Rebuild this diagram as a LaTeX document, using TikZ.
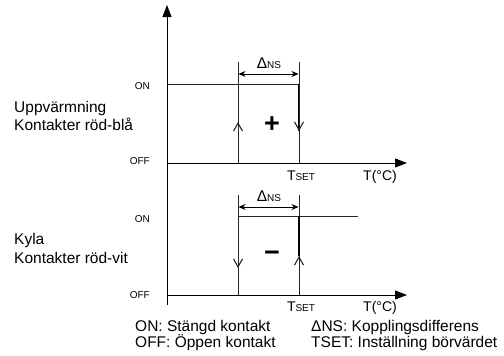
\documentclass[tikz,border=0pt]{standalone}
\usepackage{fontspec}
\setmainfont{Liberation Sans}
\usetikzlibrary{arrows.meta}
\begin{document}
\begin{tikzpicture}[x=1pt,y=-1pt,
  axis/.style={line width=1pt,-{Triangle[length=12pt,width=9pt]}},
  ln/.style={line width=1pt,black!85},
  thk/.style={line width=1.8pt},
  chev/.style={line width=1pt,black!85,-{Straight Barb[length=8pt,width=9pt,line width=1.1pt]}},
  dim/.style={line width=1pt,{Stealth[length=7pt,width=6pt]}-{Stealth[length=7pt,width=6pt]}},
  lbl/.style={font=\fontsize{15.5}{18}\selectfont,inner sep=0pt,anchor=base west},
  sm/.style={font=\fontsize{10}{12}\selectfont,inner sep=0pt,anchor=east},
  mid/.style={inner sep=0pt,anchor=base},
]
\useasboundingbox (0,0) rectangle (504,356);
% axes
\coordinate (ybot) at (167,305);
\coordinate (ytop) at (167,5);
\draw[axis] (ybot) -- (ytop);
% ---------- upper diagram ----------
\coordinate (o1) at (167,163);
\coordinate (x1) at (407,163);
\coordinate (on1a) at (167,84);
\coordinate (on1b) at (299,84);
\coordinate (l1t) at (238,62);
\coordinate (l1b) at (238,163);
\coordinate (l1m) at (238,122);
\coordinate (r1t) at (299,62);
\coordinate (r1b) at (299,163);
\coordinate (r1m) at (299,131);
\coordinate (d1a) at (238.5,74);
\coordinate (d1b) at (298.5,74);
\draw[axis] (o1) -- (x1);
\draw[ln] (on1a) -- (on1b);
\draw[ln] (l1b) -- (l1t);
\draw[chev] (l1b) -- (l1m);
\draw[ln] (r1t) -- (on1b);
\draw[thk] (on1b) -- (r1m);
\draw[ln] (r1m) -- (r1b);
\draw[chev] (on1b) -- (r1m);
\draw[dim] (d1a) -- (d1b);
\node[inner sep=0pt] (dns1) at (269,63) {\fontsize{15.5}{18}\selectfont Δ\fontsize{10}{12}\selectfont NS};
\node[inner sep=0pt] (plus) at (272,125) {\fontsize{27}{28}\selectfont\bfseries +};
\node[mid] (ts1) at (301,180) {\fontsize{14}{16}\selectfont T\fontsize{10}{12}\selectfont SET};
\node[mid] (tc1) at (380,180) {\fontsize{14}{16}\selectfont T(°C)};
\node[sm] (onl1) at (150,86) {ON};
\node[sm] (offl1) at (150,161) {OFF};
\node[lbl] (up1) at (14,112) {Uppvärmning};
\node[lbl] (up2) at (14,130) {Kontakter röd-blå};
% ---------- lower diagram ----------
\coordinate (o2) at (167,295);
\coordinate (x2) at (407,295);
\coordinate (on2a) at (238,216);
\coordinate (on2b) at (358,216);
\coordinate (r2on) at (299,216);
\coordinate (l2t) at (238,195);
\coordinate (l2b) at (238,295);
\coordinate (l2m) at (238,268);
\coordinate (r2t) at (299,195);
\coordinate (r2b) at (299,295);
\coordinate (r2m) at (299,256);
\coordinate (d2a) at (238.5,207);
\coordinate (d2b) at (298.5,207);
\draw[axis] (o2) -- (x2);
\draw[ln] (on2a) -- (on2b);
\draw[ln] (l2t) -- (l2b);
\draw[chev] (l2t) -- (l2m);
\draw[ln] (r2t) -- (r2b);
\draw[thk] (r2on) -- (r2m);
\draw[chev] (r2b) -- (r2m);
\draw[dim] (d2a) -- (d2b);
\node[inner sep=0pt] (dns2) at (269,196) {\fontsize{15.5}{18}\selectfont Δ\fontsize{10}{12}\selectfont NS};
\node[inner sep=0pt] (minus) at (272,256) {\fontsize{27}{28}\selectfont\bfseries −};
\node[mid] (ts2) at (301,311) {\fontsize{14}{16}\selectfont T\fontsize{10}{12}\selectfont SET};
\node[mid] (tc2) at (380,311) {\fontsize{14}{16}\selectfont T(°C)};
\node[sm] (onl2) at (150,219) {ON};
\node[sm] (offl2) at (150,295) {OFF};
\node[lbl] (ky1) at (14,244) {Kyla};
\node[lbl] (ky2) at (14,263) {Kontakter röd-vit};
% ---------- legend ----------
\node[lbl] (lg1) at (135,331) {ON: Stängd kontakt};
\node[lbl] (lg2) at (135,347) {OFF: Öppen kontakt};
\node[lbl] (lg3) at (311,331) {ΔNS: Kopplingsdifferens};
\node[lbl] (lg4) at (311,347) {TSET: Inställning börvärdet};
\end{tikzpicture}
\end{document}
